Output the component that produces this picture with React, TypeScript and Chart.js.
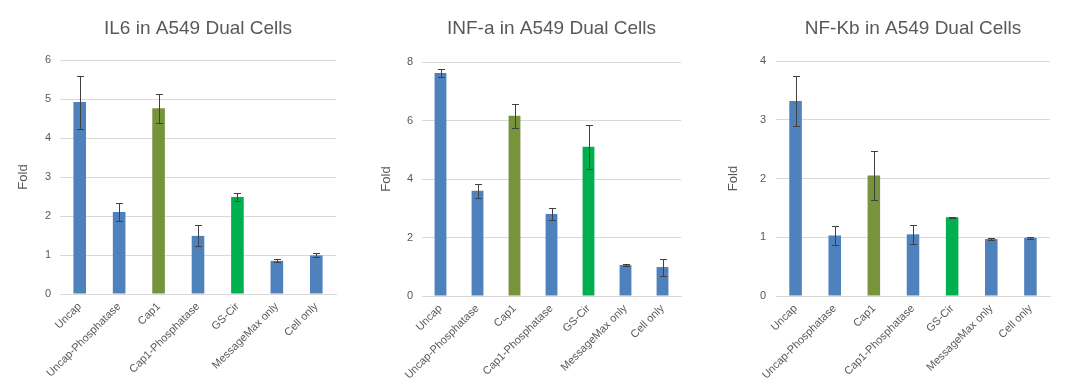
import React, { useEffect, useRef } from "react";
import { Chart, registerables } from "chart.js";

Chart.register(...registerables);

// ---------- data ----------
const categories = [
  "Uncap",
  "Uncap-Phosphatase",
  "Cap1",
  "Cap1-Phosphatase",
  "GS-Cir",
  "MessageMax only",
  "Cell only",
];
const barColors = ["#4F81BD", "#4F81BD", "#77933C", "#4F81BD", "#00B050", "#4F81BD", "#4F81BD"];

const il6Values = [4.92, 2.1, 4.76, 1.49, 2.49, 0.85, 0.99];
const il6Errors = [0.68, 0.24, 0.38, 0.27, 0.11, 0.04, 0.05];

const infValues = [7.62, 3.6, 6.16, 2.8, 5.1, 1.06, 0.99];
const infErrors = [0.14, 0.24, 0.4, 0.2, 0.76, 0.02, 0.29];

const nfkbValues = [3.32, 1.03, 2.05, 1.05, 1.34, 0.97, 0.99];
const nfkbErrors = [0.43, 0.17, 0.41, 0.16, 0.01, 0.02, 0.02];

const il6Ticks = { max: 6, step: 1 };
const infTicks = { max: 8, step: 2 };
const nfkbTicks = { max: 4, step: 1 };

const FONT = "'Liberation Sans', Arial, Helvetica, sans-serif";
const TEXT = "#595959";

const errorBarPlugin = {
  id: "errorBars",
  afterDatasetsDraw(chart: any, _args: any, opts: any) {
    const errs: number[] = opts.errors || [];
    const meta = chart.getDatasetMeta(0);
    const vals: number[] = chart.data.datasets[0].data;
    const y = chart.scales.y;
    const ctx = chart.ctx;
    ctx.save();
    ctx.strokeStyle = "#404040";
    ctx.lineWidth = 1;
    meta.data.forEach((el: any, i: number) => {
      const e = errs[i];
      if (e == null) return;
      const x = Math.round(el.x) + 0.5;
      const t = Math.round(y.getPixelForValue(vals[i] + e)) + 0.5;
      const b = Math.round(y.getPixelForValue(vals[i] - e)) + 0.5;
      ctx.beginPath();
      ctx.moveTo(x, t);
      ctx.lineTo(x, b);
      ctx.moveTo(x - 3.5, t);
      ctx.lineTo(x + 3.5, t);
      ctx.moveTo(x - 3.5, b);
      ctx.lineTo(x + 3.5, b);
      ctx.stroke();
    });
    ctx.restore();
  },
};

type PanelProps = {
  title: string;
  values: number[];
  errors: number[];
  ticks: { max: number; step: number };
  left: number;
  width: number;
  padLeft: number;
  padRight: number;
  yAxisWidth: number;
  xAxisHeight: number;
  titleTop: number;
  titleBottom: number;
  tickPad: number;
};

function Panel(p: PanelProps) {
  const ref = useRef<HTMLCanvasElement | null>(null);
  useEffect(() => {
    if (!ref.current) return;
    const chart = new Chart(ref.current, {
      type: "bar",
      data: {
        labels: categories,
        datasets: [
          {
            data: p.values,
            backgroundColor: barColors,
            borderWidth: 0,
            barPercentage: 0.32,
            categoryPercentage: 1,
          },
        ],
      },
      plugins: [errorBarPlugin],
      options: {
        animation: false,
        responsive: false,
        maintainAspectRatio: false,
        layout: { padding: { left: p.padLeft, right: p.padRight, top: 0, bottom: 0 } },
        plugins: {
          legend: { display: false },
          tooltip: { enabled: false },
          title: {
            display: true,
            text: p.title,
            fullSize: false,
            color: TEXT,
            font: { family: FONT, size: 19, weight: "normal" },
            padding: { top: p.titleTop, bottom: p.titleBottom },
          },
          // @ts-ignore
          errorBars: { errors: p.errors },
        },
        scales: {
          x: {
            grid: { display: false, drawTicks: false },
            border: { display: true, color: "#D9D9D9" },
            ticks: {
              color: TEXT,
              font: { family: FONT, size: 11 },
              minRotation: 45,
              maxRotation: 45,
              autoSkip: false,
              padding: 6,
            },
            afterFit: (s: any) => {
              s.height = p.xAxisHeight;
            },
          },
          y: {
            min: 0,
            max: p.ticks.max,
            grid: { color: "#D9D9D9", drawTicks: false },
            border: { display: false },
            ticks: {
              stepSize: p.ticks.step,
              color: TEXT,
              font: { family: FONT, size: 11 },
              padding: p.tickPad,
            },
            title: {
              display: true,
              text: "Fold",
              color: TEXT,
              font: { family: FONT, size: 13 },
              padding: { top: 4, bottom: 0 },
            },
            afterFit: (s: any) => {
              s.width = p.yAxisWidth;
            },
          },
        },
      },
    });
    return () => chart.destroy();
  }, []);
  return (
    <div style={{ position: "absolute", left: p.left, top: 0, width: p.width, height: 389 }}>
      <canvas ref={ref} width={p.width} height={389} style={{ display: "block" }} />
    </div>
  );
}

export default function App() {
  return (
    <div
      style={{
        position: "fixed",
        left: 0,
        top: 0,
        width: 1077,
        height: 389,
        background: "#fff",
        overflow: "hidden",
      }}
    >
      <Panel
        title="IL6 in A549 Dual Cells"
        values={il6Values}
        errors={il6Errors}
        ticks={il6Ticks}
        left={0}
        width={355}
        padLeft={12}
        padRight={19}
        yAxisWidth={48}
        xAxisHeight={95}
        titleTop={17.6}
        titleBottom={19.6}
        tickPad={9}
      />
      <Panel
        title="INF-a in A549 Dual Cells"
        values={infValues}
        errors={infErrors}
        ticks={infTicks}
        left={360}
        width={357}
        padLeft={15}
        padRight={36}
        yAxisWidth={47}
        xAxisHeight={93}
        titleTop={17.6}
        titleBottom={21.6}
        tickPad={9}
      />
      <Panel
        title="NF-Kb in A549 Dual Cells"
        values={nfkbValues}
        errors={nfkbErrors}
        ticks={nfkbTicks}
        left={717}
        width={360}
        padLeft={5}
        padRight={27}
        yAxisWidth={54}
        xAxisHeight={93}
        titleTop={17.6}
        titleBottom={20.6}
        tickPad={10}
      />
    </div>
  );
}
